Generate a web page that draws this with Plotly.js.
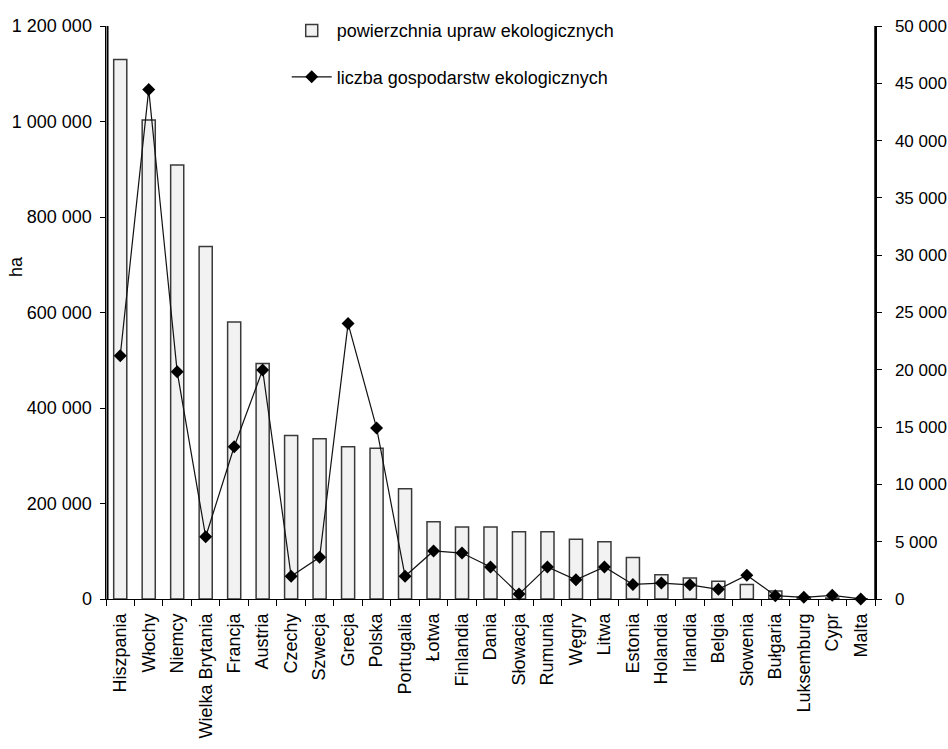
<!DOCTYPE html>
<html>
<head>
<meta charset="utf-8">
<script src="https://cdn.plot.ly/plotly-3.0.1.min.js"></script>
<style>html,body{margin:0;padding:0;background:#fff;}#chart{width:948px;height:749px;}</style>
</head>
<body>
<div id="chart"></div>
<script>
var countries = ["Hiszpania","Włochy","Niemcy","Wielka Brytania","Francja","Austria","Czechy","Szwecja","Grecja","Polska","Portugalia","Łotwa","Finlandia","Dania","Słowacja","Rumunia","Węgry","Litwa","Estonia","Holandia","Irlandia","Belgia","Słowenia","Bułgaria","Luksemburg","Cypr","Malta"];
var areaHa = [1130000,1003000,909000,738000,580000,493000,342500,335500,319000,315500,231000,162000,151000,151000,141000,141000,125000,120000,87000,51000,44000,37000,30500,16600,3600,1900,100];
var farms = [21230,44450,19820,5430,13290,19990,1990,3640,24030,14930,1990,4190,4010,2800,430,2800,1670,2800,1270,1390,1240,840,2080,290,150,320,10];
var seriesNames = ["powierzchnia upraw ekologicznych","liczba gospodarstw ekologicznych"];
var yTitle = "ha";

var font = "Liberation Sans, Arial, sans-serif";
var data = [
  {
    type: "bar", x: countries, y: areaHa, name: seriesNames[0], legendgroup: "a",
    marker: {color: "#f2f2f2", line: {color: "#3a3a3a", width: 1.5}},
    yaxis: "y"
  },
  {
    type: "scatter", mode: "lines+markers", x: countries, y: farms, name: seriesNames[1], legendgroup: "b",
    line: {color: "#111", width: 1.2},
    marker: {symbol: "diamond", size: 10, color: "#000"},
    yaxis: "y2", cliponaxis: false
  }
];
var layout = {
  width: 948, height: 749,
  margin: {l: 106, r: 73, t: 22, b: 150},
  paper_bgcolor: "#fff", plot_bgcolor: "#fff",
  separators: ", ",
  font: {family: font, size: 18, color: "#000"},
  bargap: 0.54,
  showlegend: true,
  legend: {x: 0.235, y: 1.024, xanchor: "left", yanchor: "top", bgcolor: "rgba(0,0,0,0)",
           font: {family: font, size: 18, color: "#000"}, itemwidth: 40, tracegroupgap: 20, traceorder: "grouped"},
  xaxis: {
    type: "category", range: [-0.5, countries.length - 0.5], autorange: false,
    showgrid: false, showline: true, linecolor: "#000", linewidth: 1.2,
    ticks: "outside", tickson: "boundaries", ticklen: 6, tickcolor: "#000",
    ticklabelstandoff: 6,
    tickangle: -90, tickfont: {family: font, size: 18, color: "#000"}, automargin: false
  },
  yaxis: {
    range: [0, 1200000], autorange: false, dtick: 200000, tick0: 0, showgrid: false, zeroline: false,
    showline: true, linecolor: "#000", linewidth: 1.5, ticks: "outside", ticklen: 5, tickcolor: "#000",
    separatethousands: true, tickformat: ",d", ticklabelstandoff: 4,
    tickfont: {family: font, size: 18, color: "#000"},
    automargin: false
  },
  yaxis2: {
    overlaying: "y", side: "right", anchor: "x", range: [0, 50000], autorange: false, dtick: 5000, tick0: 0,
    showgrid: false, zeroline: false, showline: true, linecolor: "#000", linewidth: 1.5,
    ticks: "outside", ticklen: 5, tickcolor: "#000", separatethousands: true, tickformat: ",d",
    ticklabelstandoff: 10,
    tickfont: {family: font, size: 17, color: "#000"}, automargin: false
  },
  shapes: [
    {type: "line", xref: "paper", yref: "paper", x0: 0.002, x1: 0.002, y0: 0, y1: 1, line: {color: "#000", width: 2}, layer: "above"},
    {type: "line", xref: "paper", yref: "paper", x0: 1, x1: 1, y0: 0, y1: 1, line: {color: "#000", width: 1.5}, layer: "above"}
  ],
  annotations: [
    {text: yTitle, xref: "paper", yref: "paper", x: -0.118, y: 0.58, textangle: -90,
     showarrow: false, xanchor: "center", yanchor: "middle", font: {family: font, size: 18, color: "#000"}}
  ]
};
Plotly.newPlot("chart", data, layout, {displayModeBar: false, staticPlot: true});
</script>
</body>
</html>
